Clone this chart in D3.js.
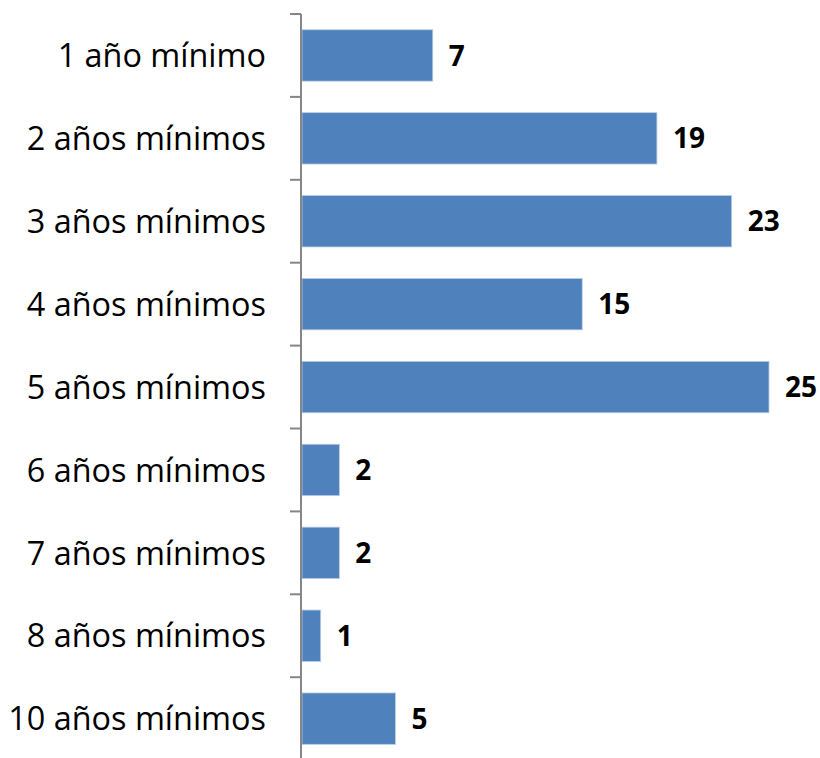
<!DOCTYPE html>
<html><head><meta charset="utf-8">
<script src="https://cdn.jsdelivr.net/npm/d3@7"></script>
<style>body{margin:0;background:#fff}svg{display:block}</style>
</head><body>
<script>
const categories = ["1 año mínimo","2 años mínimos","3 años mínimos","4 años mínimos","5 años mínimos","6 años mínimos","7 años mínimos","8 años mínimos","10 años mínimos"];
const values = [7,19,23,15,25,2,2,1,5];

const W = 820, H = 758;
const svg = d3.select("body").append("svg").attr("width", W).attr("height", H);

const axisX = 301;
const y = d3.scaleBand().domain(categories).range([14, 14 + 82.9 * 9]).paddingInner(0.38).paddingOuter(0.19);
const x = d3.scaleLinear().domain([0, 25]).range([axisX + 1, 769]);

svg.selectAll("rect.bar").data(values).join("rect")
  .attr("class", "bar")
  .attr("x", x(0))
  .attr("y", (d, i) => y(categories[i]))
  .attr("width", d => x(d) - x(0))
  .attr("height", y.bandwidth())
  .attr("fill", "#4F81BD")
  .attr("stroke", "#B9CDE5")
  .attr("stroke-width", 0.8);

// axis
const step = y.step();
const g = svg.append("g");
g.append("line").attr("x1", axisX).attr("x2", axisX).attr("y1", 14).attr("y2", 14 + step * 9)
  .attr("stroke", "#868686").attr("stroke-width", 2);
for (let i = 0; i <= 9; i++) {
  const ty = 14 + step * i;
  g.append("line").attr("x1", axisX - 11).attr("x2", axisX).attr("y1", ty).attr("y2", ty)
    .attr("stroke", "#868686").attr("stroke-width", 2);
}

svg.selectAll("text.cat").data(categories).join("text")
  .attr("class", "cat")
  .attr("x", 266)
  .attr("y", d => y(d) + y.bandwidth() / 2)
  .attr("dy", "0.36em")
  .attr("text-anchor", "end")
  .attr("font-family", "'Open Sans', sans-serif")
  .attr("font-size", 32.4)
  .attr("fill", "#000")
  .text(d => d);

svg.selectAll("text.val").data(values).join("text")
  .attr("class", "val")
  .attr("x", d => x(d) + 16)
  .attr("y", (d, i) => y(categories[i]) + y.bandwidth() / 2)
  .attr("dy", "0.36em")
  .attr("font-family", "'Open Sans', sans-serif")
  .attr("font-weight", "bold")
  .attr("font-size", 28)
  .attr("fill", "#000")
  .text(d => d);
</script>
</body></html>
